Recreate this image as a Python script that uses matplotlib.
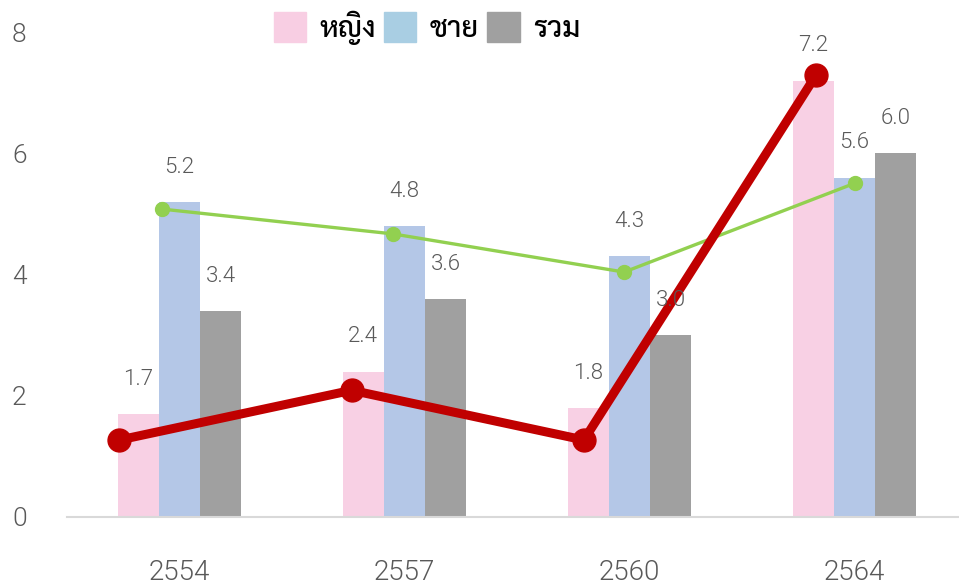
import numpy as np
import matplotlib
matplotlib.use("Agg")
import matplotlib.pyplot as plt
from matplotlib.patches import Patch

years = ["2554", "2557", "2560", "2564"]
female = [1.7, 2.4, 1.8, 7.2]
male = [5.2, 4.8, 4.3, 5.6]
total = [3.4, 3.6, 3.0, 6.0]
red_line = [1.27, 2.09, 1.27, 7.29]
green_line = [5.08, 4.67, 4.04, 5.51]
legend_labels = ["หญิง", "ชาย", "รวม"]

thai_font = ["Sarabun", "Noto Sans Thai Looped", "IBM Plex Sans Thai Looped", "DejaVu Sans"]
num_font = ["Roboto", "DejaVu Sans"]
text_color = "#595959"

fig = plt.figure(figsize=(9.59, 5.88), dpi=100)
ax = fig.add_axes([67 / 959, 71 / 588, 892 / 959, 485 / 588])

x = np.arange(len(years))
w = 0.183
colors = ["#F8D0E4", "#B4C7E7", "#A0A0A0"]
for i, vals in enumerate([female, male, total]):
    pos = x + (i - 1) * w
    ax.bar(pos, vals, width=w, color=colors[i], zorder=2)
    for px, v in zip(pos, vals):
        ax.annotate(f"{v:.1f}", (px, v), xytext=(0, 25), textcoords="offset points",
                    ha="center", va="center", fontsize=16, color=text_color,
                    family=num_font, weight=300, zorder=5)

# lines sit on their own slightly shifted category spacing
red_x = -0.267 + np.arange(len(years)) * 1.032
green_x = -0.08 + np.arange(len(years)) * 1.028
ax.plot(green_x, green_line, color="#92D050", lw=2.4, marker="o", ms=10, zorder=3)
ax.plot(red_x, red_line, color="#C00000", lw=6.5, marker="o", ms=16.5, zorder=4,
        solid_capstyle="round")

ax.set_xlim(-0.5, 3.464)
ax.set_ylim(0, 8)
ax.set_yticks([0, 2, 4, 6, 8])
ax.set_xticks(x)
ax.set_xticklabels(years, family=num_font, fontsize=20, color=text_color, weight=300)
for lbl in ax.get_yticklabels():
    lbl.set_family(num_font)
    lbl.set_fontweight(300)
ax.tick_params(axis="y", length=0, pad=29, labelsize=19, labelcolor=text_color)
ax.tick_params(axis="x", length=0, pad=30)
for s in ["top", "right", "left"]:
    ax.spines[s].set_visible(False)
ax.spines["bottom"].set_color("#D9D9D9")
ax.spines["bottom"].set_linewidth(1.5)

handles = [Patch(color=c) for c in ["#F8CEE3", "#A9CEE3", "#A0A0A0"]]
fig.legend(handles, legend_labels, loc="center", bbox_to_anchor=(427 / 959, 1 - 28 / 588),
           ncol=3, frameon=False, prop={"family": thai_font, "size": 21, "weight": "medium"},
           handlelength=1.1, handleheight=1.2, handletextpad=0.45, columnspacing=0.3)

fig.savefig("out.png", dpi=100)
